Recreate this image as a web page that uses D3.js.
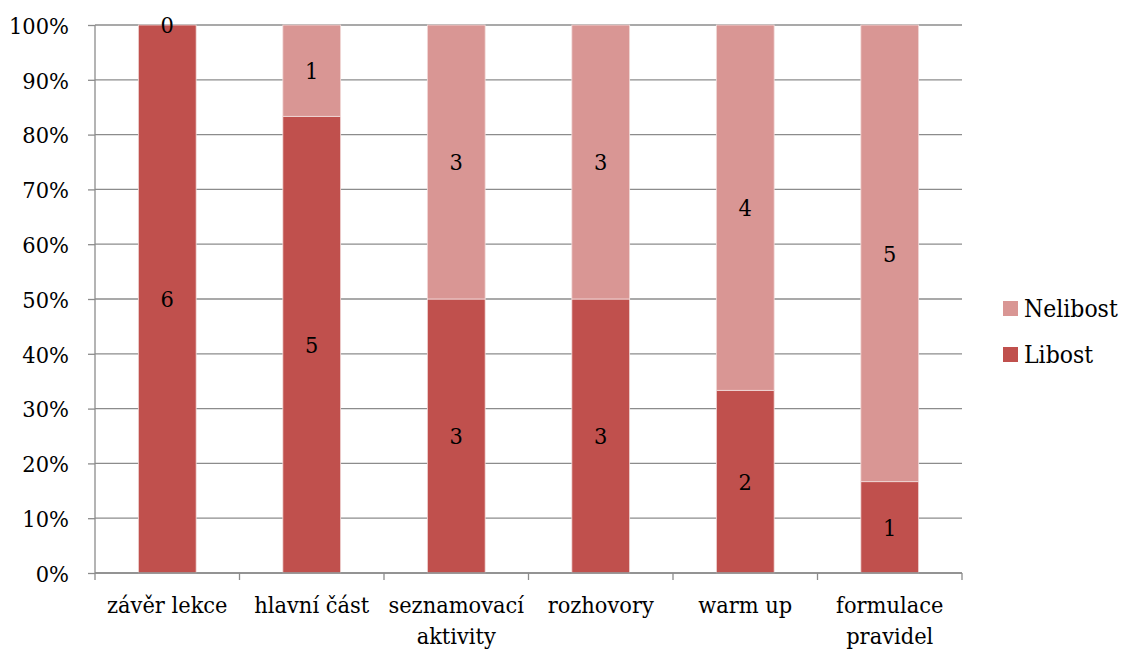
<!DOCTYPE html>
<html>
<head>
<meta charset="utf-8">
<script src="https://cdn.jsdelivr.net/npm/d3@7"></script>
</head>
<body style="margin:0">
<svg id="chart" width="1122" height="649" style="font-family:'DejaVu Serif'"></svg>
<script>
// Activity categories (multi-line labels split with "\n")
const categories = ["závěr lekce", "hlavní část", "seznamovací\naktivity", "rozhovory", "warm up", "formulace\npravidel"];
// Counts per series
const libost = [6, 5, 3, 3, 2, 1];
const nelibost = [0, 1, 3, 3, 4, 5];
const seriesNames = ["Libost", "Nelibost"];
const seriesColors = ["#C0504D", "#D99694"];
const yTicks = [0, 0.1, 0.2, 0.3, 0.4, 0.5, 0.6, 0.7, 0.8, 0.9, 1];

const FONT = "'DejaVu Serif'";
const STRETCH = 1.1;   // glyphs are drawn slightly taller than wide

const svg = d3.select("#chart");
const margin = { left: 95, right: 160, top: 25, bottom: 76 };
const W = 1122, H = 649;
const plotW = W - margin.left - margin.right;
const plotH = H - margin.top - margin.bottom;

const rows = categories.map((c, i) => ({ cat: c, Libost: libost[i], Nelibost: nelibost[i] }));
const stack = d3.stack().keys(seriesNames).offset(d3.stackOffsetExpand);
const layers = stack(rows);

const x = d3.scaleBand().domain(categories).range([0, plotW]).paddingInner(0.6).paddingOuter(0.3);
const xEdge = d3.scaleLinear().domain([0, categories.length]).range([0, plotW]);
const y = d3.scaleLinear().domain([0, 1]).range([plotH, 0]);

const g = svg.append("g").attr("transform", `translate(${margin.left},${margin.top})`);

// Horizontal gridlines
g.append("g").selectAll("line").data(yTicks).join("line")
  .attr("x1", 0).attr("x2", plotW)
  .attr("y1", d => y(d)).attr("y2", d => y(d))
  .attr("stroke", "#8c8c8c").attr("stroke-width", 1.3);

// Stacked bars
const layerG = g.append("g").selectAll("g").data(layers).join("g")
  .attr("fill", (d, i) => seriesColors[i]);
layerG.selectAll("rect").data(d => d).join("rect")
  .attr("x", d => x(d.data.cat))
  .attr("width", x.bandwidth())
  .attr("y", d => y(d[1]))
  .attr("height", d => y(d[0]) - y(d[1]))
  .attr("stroke", "#f2dcdb").attr("stroke-width", 0.8);

// Data labels at segment centres
layers.forEach((layer) => {
  g.append("g").selectAll("text").data(layer).join("text")
    .attr("transform", d => `translate(${x(d.data.cat) + x.bandwidth() / 2},${(y(d[0]) + y(d[1])) / 2}) scale(1,${STRETCH})`)
    .attr("dy", "0.36em")
    .attr("text-anchor", "middle")
    .style("font-family", FONT).style("font-size", "21px").attr("fill", "#000")
    .text(d => d.data[layer.key]);
});

// Y axis
const yAxis = g.append("g").call(d3.axisLeft(y).tickValues(yTicks).tickFormat(d3.format(".0%")).tickSize(7).tickPadding(19));
yAxis.selectAll("path, line").attr("stroke", "#8c8c8c").attr("stroke-width", 1.3);
yAxis.select(".domain").attr("d", `M0,0V${plotH}`);
yAxis.selectAll("text").attr("dy", "0.36em").attr("transform", `scale(1,${STRETCH})`)
  .style("font-family", FONT).style("font-size", "21px").attr("fill", "#000");

// X axis baseline and category boundary ticks
const xAxis = g.append("g").attr("transform", `translate(0,${plotH})`);
xAxis.append("line").attr("x1", 0).attr("x2", plotW).attr("stroke", "#8c8c8c").attr("stroke-width", 1.3);
xAxis.selectAll("line.tick").data(d3.range(categories.length + 1)).join("line")
  .attr("class", "tick")
  .attr("x1", d => xEdge(d)).attr("x2", d => xEdge(d))
  .attr("y1", 0).attr("y2", 7)
  .attr("stroke", "#8c8c8c").attr("stroke-width", 1.3);
const xl = xAxis.selectAll("text").data(categories).join("text")
  .attr("transform", d => `translate(${x(d) + x.bandwidth() / 2},40) scale(1,${STRETCH})`)
  .attr("text-anchor", "middle")
  .style("font-family", FONT).style("font-size", "21px").attr("fill", "#000");
xl.each(function (d) {
  d.split("\n").forEach((line, i) => {
    d3.select(this).append("tspan")
      .attr("x", 0)
      .attr("dy", i === 0 ? 0 : 31 / STRETCH)
      .text(line);
  });
});

// Legend
const legendItems = [{ name: "Nelibost", color: seriesColors[1] }, { name: "Libost", color: seriesColors[0] }];
const lg = svg.append("g").attr("transform", "translate(1003,301)");
const li = lg.selectAll("g").data(legendItems).join("g")
  .attr("transform", (d, i) => `translate(0,${i * 46})`);
li.append("rect").attr("width", 15).attr("height", 15).attr("fill", d => d.color);
li.append("text").attr("transform", `translate(21,16) scale(1,${STRETCH})`)
  .style("font-family", FONT).style("font-size", "22px").attr("fill", "#000")
  .text(d => d.name);
</script>
</body>
</html>
